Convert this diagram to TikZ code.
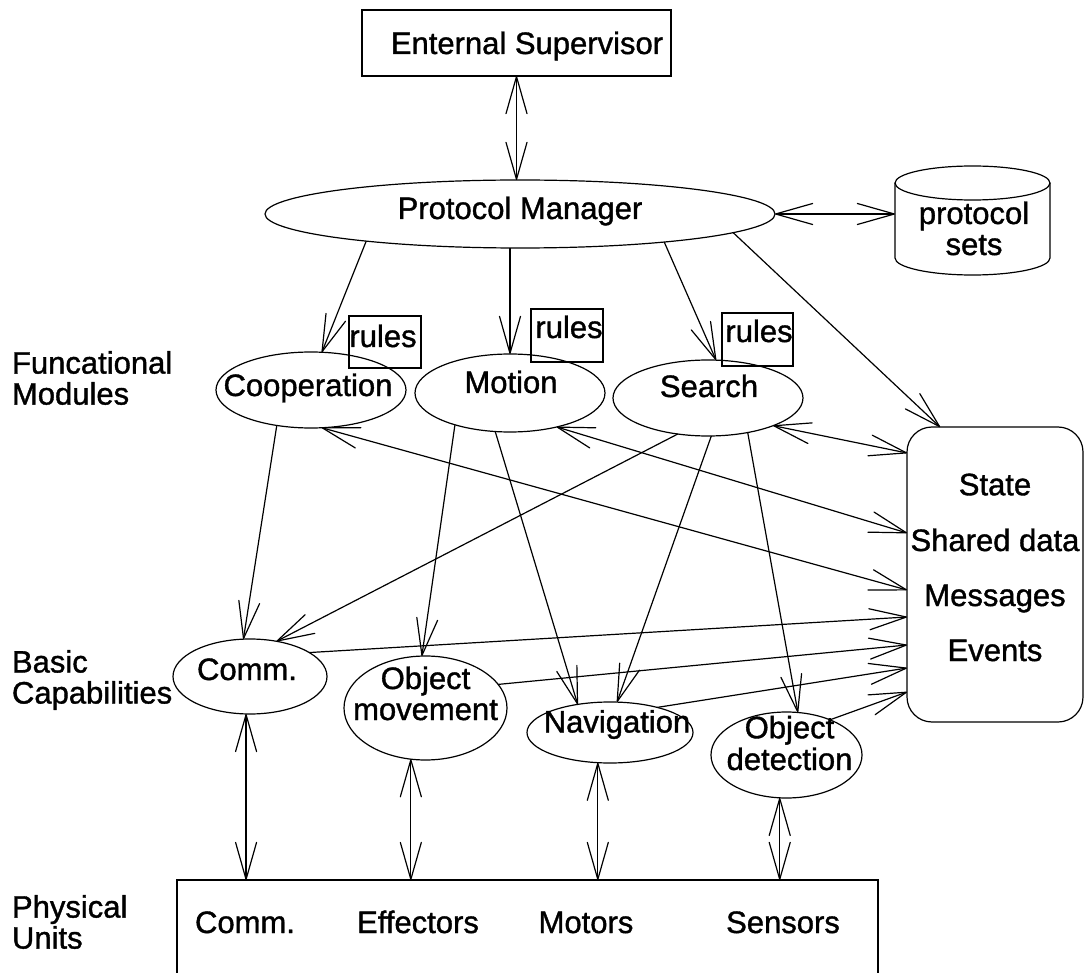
\documentclass[tikz,border=0pt]{standalone}
\usepackage{fontspec}
\setmainfont{Liberation Sans}[FakeBold=1.2]
\usetikzlibrary{shapes.geometric,arrows.meta}

% zero-size text block: #1 = horizontal offset, #2 = raise of last baseline, #3 = lines
\newcommand\intext[3]{\raisebox{#2}[0pt][0pt]{\makebox[0pt][l]{\kern#1\makebox[0pt]{\begin{tabular}[b]{@{}c@{}}#3\end{tabular}}}}}

\tikzset{
  lbl/.style={font=\fontsize{31}{31}\selectfont, inner sep=0pt, outer sep=0pt},
  oval/.style={lbl, ellipse, draw, line width=1.2pt},
  boxn/.style={lbl, rectangle, draw, line width=1.2pt},
  link/.style={line width=1.2pt},
  >={Straight Barb[length=37pt,width=21pt,round]},
}

\begin{document}
\begin{tikzpicture}[x=1pt,y=-1pt]
\useasboundingbox (0,0) rectangle (1087,973);

% supervisor and manager
\node[boxn, minimum width=309pt, minimum height=66pt] (sup) at (516.5,43) {\intext{10.5pt}{-11pt}{Enternal Supervisor}};
\node[oval, minimum width=510pt, minimum height=68pt] (pm) at (520,214) {\intext{0pt}{-5pt}{Protocol Manager}};

% protocol store (cylinder)
\node[lbl, minimum width=155pt, minimum height=109pt] (ps) at (972.5,220.5) {\intext{1.5pt}{-34.5pt}{protocol\\sets}};
\draw[link] ([yshift=-17pt]ps.north) ellipse [x radius=77.5pt, y radius=17pt];
\draw[link] ([yshift=-17pt]ps.north west) -- ([yshift=17pt]ps.south west)
  arc[start angle=180, end angle=360, x radius=77.5pt, y radius=17pt]
  -- ([yshift=-17pt]ps.north east);

% rule boxes
\node[boxn, minimum width=72pt, minimum height=52pt] (r1) at (385,342) {\intext{-2pt}{-5pt}{rules}};
\node[boxn, minimum width=72pt, minimum height=53pt] (r2) at (567,335.5) {\intext{2pt}{-2.5pt}{rules}};
\node[boxn, minimum width=71pt, minimum height=53pt] (r3) at (757.5,339.5) {\intext{1.5pt}{-2.5pt}{rules}};

% functional modules
\node[oval, minimum width=190pt, minimum height=76pt] (coop) at (311,390) {\intext{-3pt}{-6pt}{Cooperation}};
\node[oval, minimum width=190pt, minimum height=78pt] (mot) at (510,393) {\intext{1pt}{0pt}{Motion}};
\node[oval, minimum width=190pt, minimum height=76pt] (sea) at (708,398) {\intext{1pt}{1pt}{Search}};

% shared store
\node[boxn, rounded corners=25pt, minimum width=176pt, minimum height=295pt] (st) at (995,574.5)
  {\intext{0pt}{-86.5pt}{State\\[24pt]Shared data\\[24pt]Messages\\[24pt]Events}};

% basic capabilities
\node[oval, minimum width=154pt, minimum height=75pt] (comm) at (250,676.5) {\intext{-3pt}{-3.5pt}{Comm.}};
\node[oval, minimum width=163pt, minimum height=104pt] (om) at (425.5,708) {\intext{0pt}{-12pt}{Object\\movement}};
\node[oval, minimum width=166pt, minimum height=61pt] (nav) at (610,732.5) {\intext{7pt}{0pt}{Navigation}};
\node[oval, minimum width=151pt, minimum height=86pt] (od) at (786.5,755) {\intext{3pt}{-15pt}{Object\\detection}};

% physical units (open at the bottom)
\node[lbl, minimum width=701pt, minimum height=100pt] (phys) at (527.5,930) {};
\draw[link] (phys.south west) -- (phys.north west) -- (phys.north east) -- (phys.south east);
\node[lbl, anchor=base] (pcomm) at (245,933) {Comm.};
\node[lbl, anchor=base] (peff) at (418,933) {Effectors};
\node[lbl, anchor=base] (pmot) at (586,933) {Motors};
\node[lbl, anchor=base] (psen) at (783,933) {Sensors};

% layer captions
\node[lbl, align=left, anchor=west] (lfm) at (12,378) {Funcational\\Modules};
\node[lbl, align=left, anchor=west] (lbc) at (12,680) {Basic\\Capabilities};
\node[lbl, align=left, anchor=west] (lpu) at (12,922) {Physical\\Units};

% control flow
\draw[link,<->] (sup.south) -- (sup.south |- pm.north);
\draw[link,<->] (pm.east) -- (pm.east -| ps.west);
\draw[link,->] (pm.190) -- (coop.74);
\draw[link,->] (pm.south -| mot.north) -- (mot.north);
\draw[link,->] (pm.349) -- (sea.78);
\draw[link,->] (pm.355) -- ([xshift=33pt]st.north west);

% access to the shared store
\draw[link,<->] (sea.337) -- ([yshift=121.5pt]st.west);
\draw[link,<->] (mot.324) -- ([yshift=41.5pt]st.west);
\draw[link,<->] (coop.286) -- ([yshift=-15.5pt]st.west);
\draw[link,->] (comm.22) -- ([yshift=-42.5pt]st.west);
\draw[link,->] (om.18) -- ([yshift=-70.5pt]st.west);
\draw[link,->] (nav.28) -- ([yshift=-93.5pt]st.west);
\draw[link,->] (od.39) -- ([yshift=-117.5pt]st.west);

% modules to capabilities
\draw[link,->] (coop.226) -- (comm.100);
\draw[link,->] (sea.230) -- (comm.53);
\draw[link,->] (mot.210) -- (om.94);
\draw[link,->] (mot.249) -- (nav.139);
\draw[link,->] (sea.275) -- (nav.77);
\draw[link,->] (sea.319) -- (od.75);

% capabilities to physical units
\draw[link,<->] (comm.264) -- (comm.264 |- phys.north);
\draw[link,<->] (om.254) -- (om.254 |- phys.north);
\draw[link,<->] (nav.248) -- (nav.248 |- phys.north);
\draw[link,<->] (od.261) -- (od.261 |- phys.north);
\end{tikzpicture}
\end{document}
